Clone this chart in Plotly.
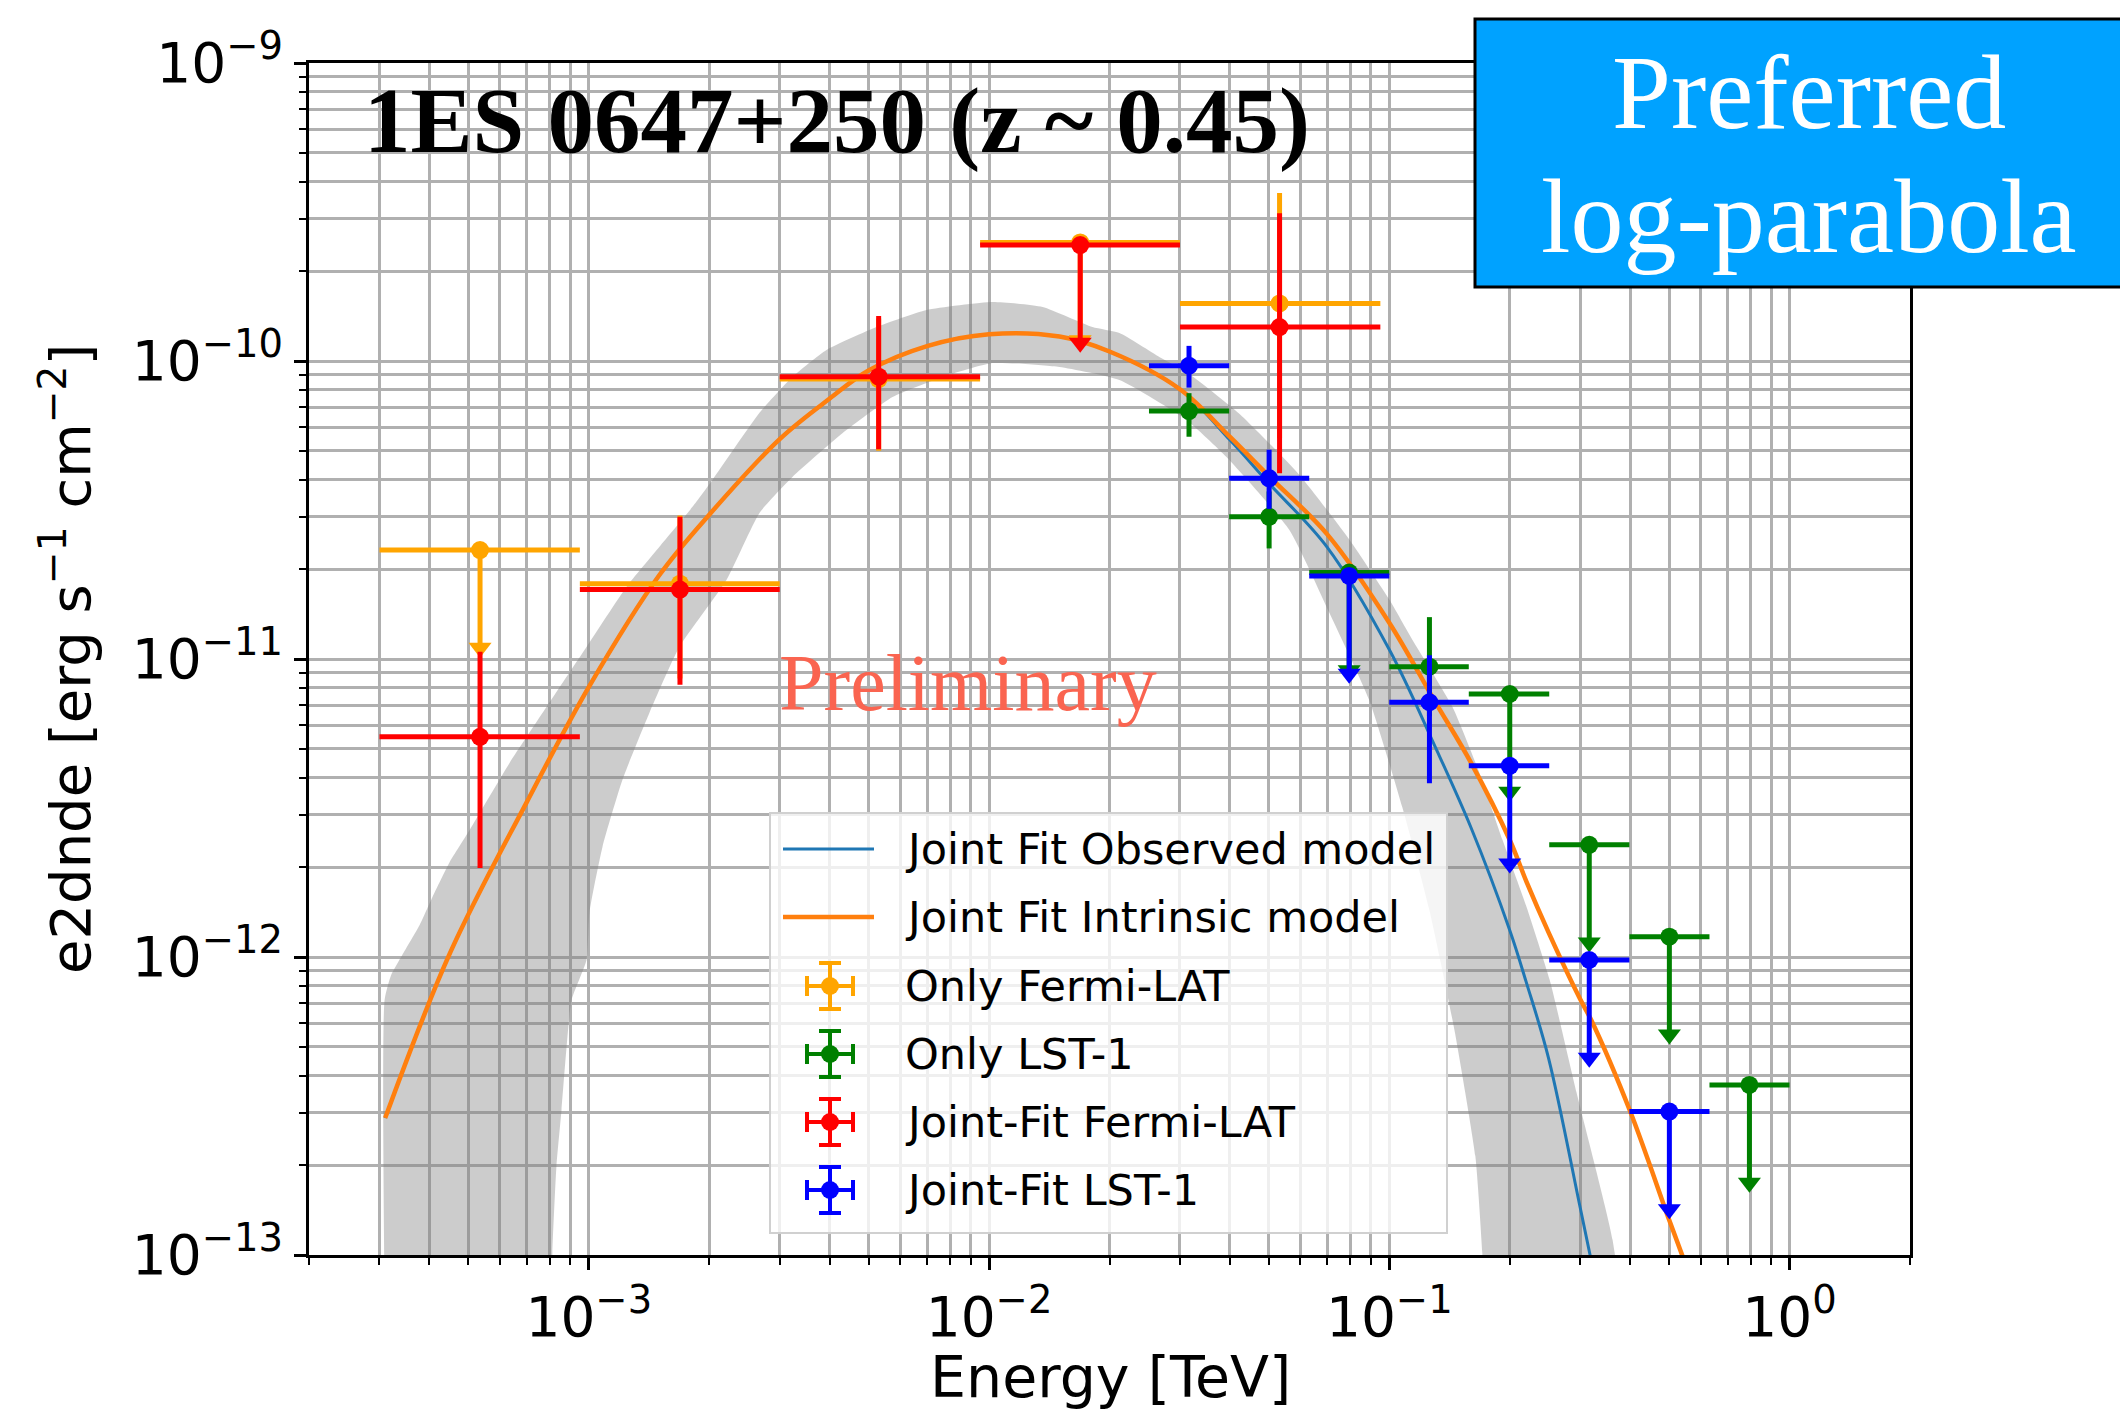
import math
import plotly.graph_objects as go

# ---------------- data ----------------
# Fermi-LAT energy bins [TeV]
fermi_energy = [5.35e-4, 1.69e-3, 5.30e-3, 1.69e-2, 5.32e-2]
fermi_e_min = [3.0e-4, 9.5e-4, 3.0e-3, 9.5e-3, 3.0e-2]
fermi_e_max = [9.5e-4, 3.0e-3, 9.5e-3, 3.0e-2, 9.5e-2]

# "Only Fermi-LAT" flux points  [erg s^-1 cm^-2]
only_fermi_flux = [2.32e-11, 1.79e-11, 8.70e-11, 2.50e-10, 1.56e-10]
only_fermi_err_lo = [None, 9.3e-12, 3.7e-11, None, 1.01e-10]
only_fermi_err_hi = [None, 1.24e-11, 5.2e-11, None, 2.10e-10]
only_fermi_is_ul = [True, False, False, True, False]

# "Joint-Fit Fermi-LAT" flux points
joint_fermi_flux = [5.48e-12, 1.71e-11, 8.86e-11, 2.45e-10, 1.30e-10]
joint_fermi_err_lo = [3.49e-12, 8.9e-12, 3.8e-11, None, 8.8e-11]
joint_fermi_err_hi = [5.10e-12, 1.29e-11, 5.3e-11, None, 1.83e-10]
joint_fermi_is_ul = [False, False, False, True, False]

# LST-1 energy bins [TeV]
lst_energy = [0.0316, 0.0501, 0.0794, 0.126, 0.200, 0.316, 0.501, 0.794]
lst_e_min = [0.0251, 0.0398, 0.0631, 0.100, 0.158, 0.251, 0.398, 0.631]
lst_e_max = [0.0398, 0.0631, 0.100, 0.158, 0.251, 0.398, 0.631, 1.0]

# "Only LST-1" flux points
only_lst_flux = [6.79e-11, 3.00e-11, 1.95e-11, 9.42e-12, 7.63e-12, 2.38e-12, 1.17e-12, 3.72e-13]
only_lst_err_lo = [1.22e-11, 6.5e-12, None, 3.0e-12, None, None, None, None]
only_lst_err_hi = [1.01e-11, 6.5e-12, None, 4.4e-12, None, None, None, None]
only_lst_is_ul = [False, False, True, False, True, True, True, True]

# "Joint-Fit LST-1" flux points (no point in the last bin)
joint_lst_flux = [9.64e-11, 4.04e-11, 1.90e-11, 7.16e-12, 4.38e-12, 9.77e-13, 3.03e-13, None]
joint_lst_err_lo = [1.5e-11, 8.5e-12, None, 3.33e-12, None, None, None, None]
joint_lst_err_hi = [1.6e-11, 1.0e-11, None, 3.14e-12, None, None, None, None]
joint_lst_is_ul = [False, False, True, False, True, True, True, False]

# Joint-fit models (log-parabola)
model_energy = [3.1e-4, 4.5e-4, 7e-4, 1e-3, 1.5e-3, 2e-3, 3e-3, 4e-3, 5e-3, 7e-3,
                1e-2, 1.5e-2, 2e-2, 3e-2, 4e-2, 5e-2, 7e-2, 0.1, 0.13, 0.16,
                0.2, 0.22, 0.25, 0.3, 0.32, 0.4, 0.5, 0.55]
intrinsic_flux = [2.88e-13, 1.03e-12, 3.31e-12, 8.05e-12, 1.91e-11, 3.05e-11, 5.47e-11, 7.48e-11, 9.29e-11, 1.122e-10,
                  1.230e-10, 1.208e-10, 1.076e-10, 8.04e-11, 5.56e-11, 4.11e-11, 2.62e-11, 1.324e-11, 7.21e-12, 4.49e-12,
                  2.47e-12, 1.795e-12, 1.21e-12, 7.21e-13, 6.12e-13, 3.03e-13, 1.315e-13, 9.3e-14]
observed_flux = [2.88e-13, 1.03e-12, 3.31e-12, 8.05e-12, 1.91e-11, 3.05e-11, 5.47e-11, 7.48e-11, 9.29e-11, 1.122e-10,
                 1.230e-10, 1.208e-10, 1.076e-10, 8.04e-11, 5.43e-11, 3.89e-11, 2.37e-11, 1.076e-11, 5.10e-12, 2.72e-12,
                 1.23e-12, 8.22e-13, 4.58e-13, 1.44e-13, 9.5e-14, None, None, None]

# Uncertainty band: upper edge (low -> high energy), lower edge (high -> low energy)
band_upper_energy = [3.09e-4, 3.09e-4, 3.21e-4, 3.42e-4, 3.78e-4, 4.07e-4, 4.49e-4, 5.04e-4, 6.34e-4, 7.84e-4,
                     9.87e-4, 1.242e-3, 1.502e-3, 1.816e-3, 2.037e-3, 2.670e-3, 3.228e-3, 3.926e-3, 5.236e-3, 6.982e-3,
                     1.021e-2, 1.361e-2, 1.813e-2, 2.118e-2, 2.670e-2, 3.114e-2, 4.227e-2, 5.97e-2, 7.96e-2, 0.1002,
                     0.1143, 0.1439, 0.1681, 0.1919, 0.2203, 0.2516, 0.2938, 0.3614, 0.370]
band_upper_flux = [7.0e-14, 7.18e-13, 8.71e-13, 1.015e-12, 1.28e-12, 1.59e-12, 2.08e-12, 2.67e-12, 4.48e-12, 6.90e-12,
                   1.097e-11, 1.745e-11, 2.38e-11, 3.24e-11, 3.99e-11, 6.70e-11, 8.84e-11, 1.089e-10, 1.30e-10, 1.483e-10,
                   1.578e-10, 1.518e-10, 1.30e-10, 1.241e-10, 1.03e-10, 9.18e-11, 6.64e-11, 4.14e-11, 2.51e-11, 1.578e-11,
                   1.159e-11, 6.90e-12, 4.14e-12, 2.47e-12, 1.472e-12, 8.38e-13, 3.50e-13, 1.122e-13, 7.0e-14]
band_lower_energy = [0.1727, 0.1708, 0.1641, 0.1455, 0.1259, 0.1078, 8.91e-2, 7.09e-2, 5.63e-2, 3.92e-2,
                     3.114e-2, 2.118e-2, 1.50e-2, 1.021e-2, 7.66e-3, 5.74e-3, 4.31e-3, 3.228e-3, 2.67e-3, 2.208e-3,
                     1.684e-3, 1.417e-3, 1.214e-3, 1.082e-3, 1.004e-3, 9.87e-4, 9.06e-4, 8.79e-4, 8.55e-4, 8.30e-4,
                     8.11e-4, 8.07e-4]
band_lower_flux = [7.0e-14, 1.016e-13, 2.15e-13, 5.69e-13, 1.44e-12, 3.18e-12, 7.28e-12, 1.426e-11, 2.71e-11, 4.76e-11,
                   6.34e-11, 8.63e-11, 9.55e-11, 9.84e-11, 8.84e-11, 7.57e-11, 5.73e-11, 4.08e-11, 3.09e-11, 1.84e-11,
                   1.097e-11, 6.59e-12, 3.93e-12, 2.34e-12, 1.41e-12, 9.77e-13, 7.18e-13, 4.88e-13, 3.07e-13, 1.97e-13,
                   1.016e-13, 7.0e-14]

# Axes
x_limits = [2e-4, 2.0]
y_limits = [1e-13, 1e-9]
x_tick_values = [1e-3, 1e-2, 1e-1, 1.0]
x_tick_labels = ["10<sup>\u22123</sup>", "10<sup>\u22122</sup>", "10<sup>\u22121</sup>", "10<sup>0</sup>"]
y_tick_values = [1e-13, 1e-12, 1e-11, 1e-10, 1e-9]
y_tick_labels = ["10<sup>\u221213</sup>", "10<sup>\u221212</sup>", "10<sup>\u221211</sup>",
                 "10<sup>\u221210</sup>", "10<sup>\u22129</sup>"]

legend_labels = ["Joint Fit Observed model", "Joint Fit Intrinsic model", "Only Fermi-LAT",
                 "Only LST-1", "Joint-Fit Fermi-LAT", "Joint-Fit LST-1"]

# ---------------- style ----------------
C_OBS = "#1f77b4"
C_INT = "#ff7f0e"
C_ONLY_FERMI = "#ffa500"
C_ONLY_LST = "#008000"
C_JOINT_FERMI = "#ff0000"
C_JOINT_LST = "#0000ff"
ARROW_END = 0.47          # upper-limit arrows end at this fraction of the limit
GRID = "#b0b0b0"

W, H = 2120, 1412
PL, PR, PT, PB = 309, 1910, 63, 1255   # plot-area edges in pixels


def px(x):
    return (x - PL) / (PR - PL)


def py(y):
    return (PB - y) / (PB - PT)


fig = go.Figure()

# uncertainty band
fig.add_trace(go.Scatter(
    x=band_upper_energy + band_lower_energy,
    y=band_upper_flux + band_lower_flux,
    mode="lines", fill="toself", fillcolor="rgba(128,128,128,0.4)",
    line=dict(width=0, color="rgba(0,0,0,0)", shape="spline", smoothing=0.5),
    hoverinfo="skip", showlegend=False))

# models
fig.add_trace(go.Scatter(x=model_energy, y=observed_flux, mode="lines", name=legend_labels[0],
                         line=dict(color=C_OBS, width=3, shape="spline", smoothing=1.0),
                         showlegend=False))
fig.add_trace(go.Scatter(x=model_energy, y=intrinsic_flux, mode="lines", name=legend_labels[1],
                         line=dict(color=C_INT, width=4.5, shape="spline", smoothing=1.0),
                         showlegend=False))


def add_flux_points(name, color, energy, e_min, e_max, flux, err_lo, err_hi, is_ul):
    xs, ys, exp, exm, eyp, eym, ulx, uly = [], [], [], [], [], [], [], []
    for e, lo, hi, f, dlo, dhi, ul in zip(energy, e_min, e_max, flux, err_lo, err_hi, is_ul):
        if f is None:
            continue
        xs.append(e)
        ys.append(f)
        exp.append(hi - e)
        exm.append(e - lo)
        if ul:
            eyp.append(0.0)
            eym.append(f * (1 - ARROW_END))
            ulx.append(e)
            uly.append(f * ARROW_END)
        else:
            eyp.append(dhi)
            eym.append(dlo)
    fig.add_trace(go.Scatter(
        x=xs, y=ys, mode="markers", name=name, showlegend=False,
        marker=dict(color=color, size=18, line=dict(width=0)),
        error_x=dict(type="data", symmetric=False, array=exp, arrayminus=exm,
                     color=color, thickness=5, width=0),
        error_y=dict(type="data", symmetric=False, array=eyp, arrayminus=eym,
                     color=color, thickness=5, width=0)))
    if ulx:
        fig.add_trace(go.Scatter(
            x=ulx, y=uly, mode="markers", showlegend=False, hoverinfo="skip",
            marker=dict(symbol="triangle-down", size=20, color=color, line=dict(width=0))))


add_flux_points(legend_labels[2], C_ONLY_FERMI, fermi_energy, fermi_e_min, fermi_e_max,
                only_fermi_flux, only_fermi_err_lo, only_fermi_err_hi, only_fermi_is_ul)
add_flux_points(legend_labels[3], C_ONLY_LST, lst_energy, lst_e_min, lst_e_max,
                only_lst_flux, only_lst_err_lo, only_lst_err_hi, only_lst_is_ul)
add_flux_points(legend_labels[4], C_JOINT_FERMI, fermi_energy, fermi_e_min, fermi_e_max,
                joint_fermi_flux, joint_fermi_err_lo, joint_fermi_err_hi, joint_fermi_is_ul)
add_flux_points(legend_labels[5], C_JOINT_LST, lst_energy, lst_e_min, lst_e_max,
                joint_lst_flux, joint_lst_err_lo, joint_lst_err_hi, joint_lst_is_ul)

# ---------------- axes ----------------
minor_x = [m * 10.0 ** d for d in range(-4, 1) for m in range(2, 10)]
minor_y = [m * 10.0 ** d for d in range(-13, -9) for m in range(2, 10)]

common_axis = dict(
    type="log", showline=True, linecolor="black", linewidth=3, mirror=True,
    ticks="outside", ticklen=12, tickwidth=2.5, tickcolor="black",
    showgrid=True, gridcolor=GRID, gridwidth=2.5, zeroline=False, automargin=False,
    tickfont=dict(family="DejaVu Sans", size=55, color="black"),
)
fig.update_xaxes(**common_axis,
                 range=[math.log10(x_limits[0]), math.log10(x_limits[1])],
                 tickmode="array", tickvals=x_tick_values, ticktext=x_tick_labels,
                 minor=dict(tickmode="array", tickvals=minor_x, ticks="outside", ticklen=7,
                            tickwidth=2, tickcolor="black", showgrid=True,
                            gridcolor=GRID, gridwidth=2.5))
fig.update_yaxes(**common_axis,
                 range=[math.log10(y_limits[0]), math.log10(y_limits[1])],
                 tickmode="array", tickvals=y_tick_values, ticktext=y_tick_labels,
                 minor=dict(tickmode="array", tickvals=minor_y, ticks="outside", ticklen=7,
                            tickwidth=2, tickcolor="black", showgrid=True,
                            gridcolor=GRID, gridwidth=2.5))

shapes = []
annotations = []

# axis titles
annotations.append(dict(text="Energy [TeV]", xref="paper", yref="paper", x=px(1110), y=py(1377),
                        xanchor="center", yanchor="middle", showarrow=False,
                        font=dict(family="DejaVu Sans", size=57, color="black")))
annotations.append(dict(text="e2dnde [erg s<sup>\u22121</sup> cm<sup>\u22122</sup>]",
                        xref="paper", yref="paper", x=px(66), y=py(659), textangle=-90,
                        xanchor="center", yanchor="middle", showarrow=False,
                        font=dict(family="DejaVu Sans", size=56, color="black")))

# source title and watermark
annotations.append(dict(text="<b>1ES 0647+250 (z ~ 0.45)</b>", xref="paper", yref="paper",
                        x=px(362), y=py(121), xanchor="left", yanchor="middle", showarrow=False,
                        font=dict(family="Liberation Serif", size=93, color="black")))
annotations.append(dict(text="Preliminary", xref="paper", yref="paper",
                        x=px(968), y=py(683), xanchor="center", yanchor="middle", showarrow=False,
                        font=dict(family="Liberation Serif", size=80, color="#fa6450")))

# "Preferred log-parabola" box
shapes.append(dict(type="rect", xref="paper", yref="paper", x0=px(1475), x1=px(2140),
                   y0=py(287), y1=py(19), fillcolor="#00a2ff",
                   line=dict(color="black", width=3), layer="above"))
annotations.append(dict(text="Preferred", xref="paper", yref="paper", x=px(1809), y=py(92),
                        xanchor="center", yanchor="middle", showarrow=False,
                        font=dict(family="Liberation Serif", size=106, color="white")))
annotations.append(dict(text="log-parabola", xref="paper", yref="paper", x=px(1809), y=py(216),
                        xanchor="center", yanchor="middle", showarrow=False,
                        font=dict(family="Liberation Serif", size=106, color="white")))

# ---------------- hand-drawn legend (matplotlib style) ----------------
LX0, LX1, LY0, LY1 = 770, 1447, 813, 1233
shapes.append(dict(type="rect", xref="paper", yref="paper", x0=px(LX0), x1=px(LX1),
                   y0=py(LY1), y1=py(LY0), fillcolor="rgba(255,255,255,0.8)",
                   line=dict(color="#d0d0d0", width=2), layer="above"))
row_y = [849, 917, 986, 1054, 1122, 1190]
line_styles = [(C_OBS, 3), (C_INT, 4.5)]
for i, (col, lw) in enumerate(line_styles):
    shapes.append(dict(type="line", xref="paper", yref="paper", x0=px(783), x1=px(874),
                       y0=py(row_y[i]), y1=py(row_y[i]), line=dict(color=col, width=lw)))
icon_colors = [C_ONLY_FERMI, C_ONLY_LST, C_JOINT_FERMI, C_JOINT_LST]
cx = 830
for col, cy in zip(icon_colors, row_y[2:]):
    segs = [(cx - 23, cy, cx + 23, cy), (cx, cy - 23, cx, cy + 23),
            (cx - 11, cy - 23, cx + 11, cy - 23), (cx - 11, cy + 23, cx + 11, cy + 23),
            (cx - 23, cy - 10, cx - 23, cy + 10), (cx + 23, cy - 10, cx + 23, cy + 10)]
    for x0, y0, x1, y1 in segs:
        shapes.append(dict(type="line", xref="paper", yref="paper", x0=px(x0), x1=px(x1),
                           y0=py(y0), y1=py(y1), line=dict(color=col, width=4)))
    shapes.append(dict(type="circle", xref="paper", yref="paper", x0=px(cx - 9), x1=px(cx + 9),
                       y0=py(cy + 9), y1=py(cy - 9), fillcolor=col, line=dict(color=col, width=0)))
for label, ry in zip(legend_labels, row_y):
    annotations.append(dict(text=label, xref="paper", yref="paper", x=px(903), y=py(ry),
                            xanchor="left", yanchor="middle", showarrow=False,
                            font=dict(family="DejaVu Sans", size=43, color="black")))

fig.update_layout(
    width=W, height=H,
    margin=dict(l=PL, r=W - PR, t=PT, b=H - PB, autoexpand=False),
    paper_bgcolor="white", plot_bgcolor="white",
    showlegend=False,
    shapes=shapes, annotations=annotations,
    font=dict(family="DejaVu Sans", color="black"),
)

fig.write_html("out.html")
